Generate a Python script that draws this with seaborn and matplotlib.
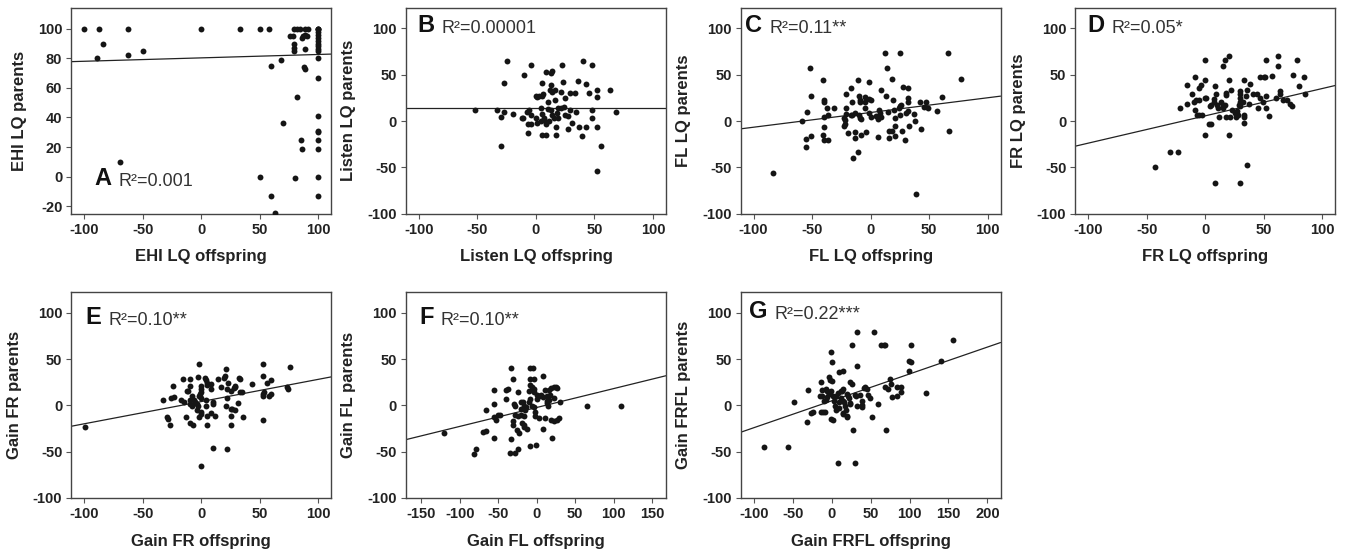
import matplotlib
matplotlib.use("Agg")
import matplotlib.pyplot as plt
import seaborn as sns

# ---- data (offspring = x, parents = y) ----
# A: EHI LQ
ehi_off = [-100, -87, -63, 0, 33, 50, 58, 79, 82, 84, 89, 91, 100, 100, 100,
           -84, -89, -63, -50,
           76, 78, 79, 79, 79, 86, 87, 89, 90, 89,
           100, 100, 100, 100, 100, 100, 100, 100, 100,
           68, 60, 88, 89, 100, 82, 70, 100, 100, 100,
           85, 100, 86, 100, -69, 50, 80, 100, 60, 100, 63]
ehi_par = [100, 100, 100, 100, 100, 100, 100, 100, 100, 100, 100, 100, 100, 100, 100,
           90, 80, 82, 85,
           95, 95, 90, 87, 85, 94, 95, 96, 95, 86,
           98, 96, 94, 92, 90, 88, 86, 85, 80,
           79, 75, 74, 73, 67, 54, 36, 41, 31, 30,
           25, 25, 19, 19, 10, 0, -1, 0, -13, -13, -24.5]

# B: Listen LQ
listen_off = [-52, -33, -27, -30, -25, -27, -30, -20, -12, -11,
              -10, -4, -8, -6, -7, -7, -4, -4, 0, 1,
              3, 0, 1, 5, 5, 6, 4, 5, 7, 4,
              5, 9, 13, 14, 9, 9, 9, 11, 10, 10,
              12, 14, 13, 13, 14, 15, 16, 16, 17, 17,
              18, 19, 19, 21, 22, 23, 21, 24, 25, 25,
              27, 27, 29, 31, 29, 33, 34, 36, 37, 39,
              40, 43, 43, 45, 48, 48, 48, 52, 52, 52,
              56, 52, 63, 68]
listen_par = [12, 12, 10, 4, 65, 41, -27, 8, 3, 3,
              50, 61, 10, 12, -3, -13, 6, -3, 27, 26,
              27, 3, -2, 41, 27, 29, 14, 8, 3, 0,
              -15, 53, 52, 54, -15, -3, -1, 0, 13, 20,
              33, 31, 39, 12, 7, 3, 23, 33, -6, -15,
              9, 14, 3, 14, 61, 42, 31, 15, 7, 25,
              5, -9, 12, -2, 30, 30, 10, 43, -6, -16,
              65, 40, -7, 30, 61, 3, 12, 33, -7, 26,
              -27, -54, 33, 10]

# C: FL LQ
fl_off = [-83, -59, -54, -55, -55, -52, -51, -51, -41, -40,
          -40, -40, -40, -41, -40, -37, -36, -36, -31, -23,
          -22, -22, -23, -21, -21, -21, -19, -17, -17, -16,
          -16, -15, -13, -13, -13, -11, -11, -10, -9, -9,
          -10, -9, -8, -8, -5, -5, -5, -4, -1, -1,
          0, -1, 0, 5, 6, 6, 8, 7, 9, 9,
          12, 13, 14, 15, 16, 18, 16, 18, 19, 20,
          21, 21, 21, 24, 25, 25, 26, 25, 27, 28,
          29, 30, 32, 32, 32, 32, 33, 37, 38, 39,
          42, 43, 46, 47, 49, 57, 61, 66, 67, 77]
fl_par = [-56, 0, 10, -19, -28, 57, 27, -16, 44, 23,
          20, 4, -6, -15, -21, 14, 6, -20, 14, 3,
          1, -3, -5, 29, 14, 8, -13, 36, 6, 6,
          21, -40, 9, -18, -12, 44, -33, 27, 23, 20,
          6, 3, 2, -15, 26, 14, 21, -12, 42, 24,
          23, 9, 4, 5, -17, 2, 9, 12, 34, 4,
          73, 27, 57, 10, -11, -11, -18, 45, 23, 12,
          3, -5, -16, 14, 7, 16, 17, 73, -11, 37,
          -21, 9, 36, 25, 21, 11, -5, 8, 0, -79,
          21, -9, 15, 20, 14, 11, 26, 73, -11, 45]

# D: FR LQ
fr_off = [-43, -30, -23, -22, -16, -16, -11, -9, -10, -9,
          -8, -5, -7, -5, -5, -4, -3, 0, 0, 0,
          1, 0, 3, 5, 4, 5, 7, 7, 8, 8,
          9, 10, 11, 12, 13, 15, 15, 17, 15, 17,
          20, 18, 18, 18, 20, 20, 21, 22, 23, 25,
          26, 27, 28, 29, 30, 30, 30, 30, 30, 30,
          32, 33, 33, 33, 33, 35, 36, 37, 36, 38,
          41, 44, 45, 47, 47, 50, 51, 49, 52, 52,
          52, 54, 57, 60, 62, 62, 64, 64, 66, 70,
          72, 74, 75, 78, 80, 84, 85]
fr_par = [-50, -34, -34, 14, 39, 18, 29, 48, 20, 12,
          23, 23, 7, 6, 36, 39, 6, 66, 44, 25,
          25, -15, -3, -3, 16, 17, 24, 20, 38, -67,
          29, 17, 14, 4, 21, 14, 17, 17, 59, 66,
          70, 28, 30, 4, 44, -15, 4, 34, 12, 9,
          4, 11, 7, 17, 16, 21, 25, -67, 32, 29,
          20, 7, 4, -2, 44, 27, 34, 18, -48, 40,
          29, 29, 14, 25, 48, 47, 48, 20, 66, 27,
          14, 5, 49, 25, 59, 70, 32, 29, 23, 23,
          18, 16, 50, 66, 38, 47, 29]

# E: Gain FR
gfr_off = [-99.5, -33, -29, -28, -27, -26, -23, -24, -17, -15,
           -16, -13, -12, -11, -10, -10, -10, -10, -10, -8,
           -8, -7, -6, -5, -4, -3, -4, -3, -2, -1,
           -2, -2, 0, 0, 0, 0, 0, 0, 0, 3,
           4, 5, 5, 4, 4, 5, 5, 8, 8, 8,
           10, 10, 10, 12, 14, 17, 19, 20, 21, 21,
           22, 23, 22, 22, 25, 25, 26, 25, 25, 28,
           29, 29, 29, 31, 32, 33, 33, 35, 36, 43,
           53, 53, 53, 53, 54, 53, 56, 58, 60, 60,
           73, 74, 76]
gfr_par = [-23, 6, -13, -15, -21, 8, 9, 21, 6, 4,
           29, -13, 15, 16, 2, 6, 21, 29, -19, 10,
           -1, -21, 6, 4, 2, -1, -5, 31, 10, 12,
           45, -13, 21, 18, 14, 8, -7, -9, -66, 30,
           27, 22, 24, 6, -1, -12, -21, 18, 23, -8,
           4, 1, -46, -12, 29, 20, 30, 32, 39, -1,
           18, 24, 8, -47, 16, -4, -4, -12, -21, 19,
           20, 21, -5, 3, 30, 29, 14, 14, -13, 23,
           45, 32, 12, 10, 14, -16, 24, 10, 27, 12,
           20, 18, 41]

# F: Gain FL
gfl_off = [-121, -82, -79, -70, -66, -66, -55, -55, -55, -55,
           -53, -51, -48, -40, -37, -40, -34, -33, -31, -30,
           -28, -28, -31, -35, -28, -31, -26, -24, -24, -24,
           -23, -20, -18, -17, -19, -17, -16, -15, -14, -12,
           -10, -9, -9, -5, -3, -9, -9, -9, -6, -4,
           -6, -4, -2, -1, -2, 1, 3, 3, 6, 8,
           8, 8, 11, 11, 13, 14, 15, 16, 18, 17,
           18, 20, 23, 23, 26, 27, 29, 30, 66, 109,
           -10, -3, 1, 22, 25, 14, 16, -20, -17, -21]
gfl_par = [-30, -52, -47, -29, -28, -5, -35, 2, 17, -13,
           -16, -10, -10, 17, 18, 7, 40, -36, 28, 2,
           -1, -10, -17, -51, -51, -21, -27, -47, 14, -12,
           -30, 4, 4, -1, -19, -21, -23, -5, -2, -25,
           4, 7, 40, 40, 28, 28, 22, -44, 20, 18,
           -1, -2, -12, -43, -7, 7, 10, -14, 11, 9,
           32, -26, 17, -14, 5, 3, -1, 17, 19, 11,
           -16, -35, 8, -17, 19, -16, -14, 4, -1, -1,
           16, 14, 11, 20, 20, 10, 6, -4, -12, -10]

# G: Gain FRFL
gfrfl_off = [-87, -56, -48, -31, -32, -26, -24, -14, -15, -13,
             -14, -11, -13, -10, -8, -9, -8, -6, -6, -4,
             -3, -3, -1, -2, 0, -1, -1, 1, 0, 2,
             3, 4, 5, 6, 8, 8, 9, 9, 9, 12,
             13, 14, 12, 14, 16, 15, 14, 15, 17, 18,
             19, 20, 19, 21, 22, 24, 26, 24, 24, 26,
             27, 30, 31, 30, 32, 33, 33, 36, 39, 39,
             39, 41, 43, 45, 46, 49, 52, 54, 59, 63,
             67, 69, 69, 72, 70, 75, 76, 78, 84, 84,
             89, 89, 99, 99, 102, 102, 121, 141, 156]
gfrfl_par = [-45, -45, 4, 17, -18, -8, -7, 25, 10, 10,
             -7, -7, 17, 5, 6, -7, 18, 16, 9, 13,
             12, 31, 58, 27, 26, 16, -15, -16, 47, 10,
             5, -1, -5, 10, 13, -62, 4, 36, -3, 16,
             15, 18, 8, 5, 4, 37, -8, -9, -1, -5,
             -12, -13, 12, 10, 8, 25, 23, 3, 1, 65,
             -27, 11, 10, -62, -1, 43, 79, 11, 5, 0,
             -2, 19, 20, 18, 11, 8, -13, 79, 1, 65,
             65, 65, 20, 18, -27, 29, 23, 9, 10, 20,
             20, 14, 37, 48, 47, 65, 13, 48, 71]

# regression lines as printed
fit_intercept = [80.3, 14.2, 9.2, 5.6, 4.1, -2.3, 4.9]
fit_slope = [0.023, 0.0, 0.159, 0.295, 0.24, 0.204, 0.29]

letters = ["A", "B", "C", "D", "E", "F", "G"]
r2_labels = ["R²=0.001", "R²=0.00001", "R²=0.11**", "R²=0.05*",
             "R²=0.10**", "R²=0.10**", "R²=0.22***"]
x_labels = ["EHI LQ offspring", "Listen LQ offspring", "FL LQ offspring",
            "FR LQ offspring", "Gain FR offspring", "Gain FL offspring",
            "Gain FRFL offspring"]
y_labels = ["EHI LQ parents", "Listen LQ parents", "FL LQ parents",
            "FR LQ parents", "Gain FR parents", "Gain FL parents",
            "Gain FRFL parents"]
xs = [ehi_off, listen_off, fl_off, fr_off, gfr_off, gfl_off, gfrfl_off]
ys = [ehi_par, listen_par, fl_par, fr_par, gfr_par, gfl_par, gfrfl_par]

# axis setup
x_lims = [(-111, 111)] * 5 + [(-170, 168), (-117, 217)]
y_lims = [(-25, 114)] + [(-100, 122)] * 6
x_ticks = [range(-100, 101, 50)] * 5 + [range(-150, 151, 50), range(-100, 201, 50)]
y_ticks = [range(-20, 101, 20)] + [range(-100, 101, 50)] * 6
letter_pos = [(0.09, 0.171), (0.043, 0.917), (0.018, 0.917), (0.047, 0.917),
              (0.055, 0.877), (0.05, 0.877), (0.031, 0.907)]

sns.set_theme(style="ticks")
plt.rcParams["font.family"] = ["Liberation Sans", "DejaVu Sans"]
plt.rcParams["font.weight"] = "bold"
plt.rcParams["axes.labelweight"] = "bold"
plt.rcParams["axes.unicode_minus"] = False

fig, axes = plt.subplots(2, 4, figsize=(13.46, 5.53), dpi=100)
fig.subplots_adjust(left=0.053, right=0.992, top=0.9855, bottom=0.0995,
                    wspace=0.288, hspace=0.383)
axes = axes.flat

for i in range(7):
    ax = axes[i]
    sns.scatterplot(x=xs[i], y=ys[i], ax=ax, color="#151515", s=18,
                    linewidth=0, zorder=3)
    ax.axline((0, fit_intercept[i]), slope=fit_slope[i], color="#222222",
              lw=0.9, zorder=2)
    ax.set_xlim(x_lims[i])
    ax.set_ylim(y_lims[i])
    ax.set_xticks(list(x_ticks[i]))
    ax.set_yticks(list(y_ticks[i]))
    ax.set_xlabel(x_labels[i], fontsize=12, color="#222222", labelpad=9)
    ax.set_ylabel(y_labels[i], fontsize=12, color="#222222", labelpad=8)
    ax.tick_params(direction="out", length=3.5, width=0.8, color="#555555",
                   labelsize=10.5, labelcolor="#222222", pad=3)
    for sp in ax.spines.values():
        sp.set_color("#444444")
        sp.set_linewidth(1.0)

    lx, ly = letter_pos[i]
    t = ax.text(lx, ly, letters[i], transform=ax.transAxes, fontsize=17,
                fontweight="bold", ha="left", va="center", color="#111111")
    ax.annotate(r2_labels[i], xy=(1, 0), xycoords=t, xytext=(5, 0),
                textcoords="offset points", ha="left", va="bottom",
                fontsize=13, fontweight="normal", color="#333333")

axes[7].set_visible(False)

fig.savefig("out.png", dpi=100)
